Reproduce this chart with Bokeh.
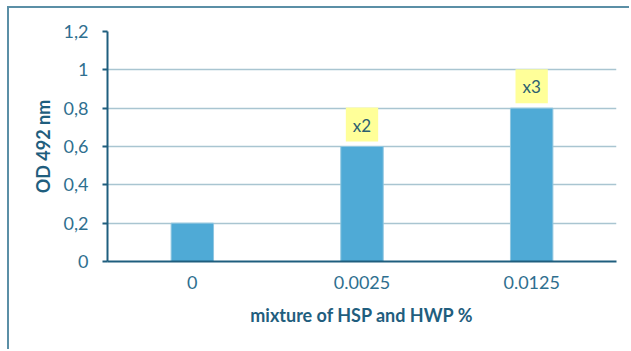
from bokeh.plotting import figure
from bokeh.models import Range1d, FactorRange, ColumnDataSource, CustomJSTickFormatter, FixedTicker
from bokeh.core.properties import value
from bokeh.embed import file_html
from bokeh.resources import INLINE

# OD readings for each concentration of the HSP/HWP mixture
concentrations = ["0", "0.0025", "0.0125"]
od_values = [0.2, 0.6, 0.8]
fold_labels = ["", "x2", "x3"]
y_ticks = [0, 0.2, 0.4, 0.6, 0.8, 1.0, 1.2]

FONT = "Lato"
AXIS_DARK = "#1f5e7e"
TICK_TEXT = "#2f6f8f"

p = figure(
    x_range=FactorRange(*concentrations, range_padding=0),
    y_range=Range1d(0, 1.2),
    width=622, height=343,
    min_border_left=98, min_border_right=15,
    min_border_top=23, min_border_bottom=90,
    output_backend="svg", toolbar_location=None,
    styles={
        "margin-left": "7px", "margin-top": "6px",
        "border-top": "2px solid #5b8fa6",
        "border-left": "2px solid #5b8fa6",
    },
)
p.outline_line_color = None

src = ColumnDataSource(dict(x=concentrations, top=od_values))
p.vbar(x="x", top="top", width=0.25, source=src,
       fill_color="#4faad6", line_color="#8fc6e0", line_width=1)

# fold-change tags above the bars that have one
keep = [i for i, t in enumerate(fold_labels) if t]
tag_src = ColumnDataSource(dict(
    x=[concentrations[i] for i in keep],
    y=[od_values[i] for i in keep],
    t=[fold_labels[i] for i in keep],
))
p.text(x="x", y="y", text="t", source=tag_src,
       text_align="center", text_baseline="middle", y_offset=-22,
       text_font=value(FONT), text_font_size="17px", text_color="#2d5f70",
       background_fill_color="#ffff99",
       padding=dict(left=7, right=7, top=7, bottom=6))

# grid
p.xgrid.grid_line_color = None
p.ygrid.grid_line_color = "#a9c5d1"
p.ygrid.grid_line_width = 1.5

# y axis
p.yaxis.ticker = FixedTicker(ticks=y_ticks)
p.yaxis.formatter = CustomJSTickFormatter(
    code="return tick.toFixed(1).replace('.0', '').replace('.', ',');")
p.yaxis.axis_label = "OD 492 nm"
p.yaxis.axis_line_color = AXIS_DARK
p.yaxis.axis_line_width = 2
p.yaxis.major_tick_line_color = AXIS_DARK
p.yaxis.major_tick_line_width = 2
p.yaxis.major_tick_out = 5
p.yaxis.major_tick_in = 0
p.yaxis.minor_tick_line_color = None
p.yaxis.major_label_standoff = 14
p.yaxis.axis_label_standoff = 7

# x axis
p.xaxis.axis_label = "mixture of HSP and HWP %"
p.xaxis.axis_line_color = AXIS_DARK
p.xaxis.axis_line_width = 2
p.xaxis.major_tick_line_color = None
p.xaxis.major_tick_out = 0
p.xaxis.major_tick_in = 0
p.xaxis.major_label_standoff = 14
p.xaxis.axis_label_standoff = 12

for ax in (p.xaxis, p.yaxis):
    ax.major_label_text_font = FONT
    ax.major_label_text_font_size = "18px"
    ax.major_label_text_color = TICK_TEXT
    ax.axis_label_text_font = FONT
    ax.axis_label_text_font_size = "18px"
    ax.axis_label_text_font_style = "bold"
    ax.axis_label_text_color = AXIS_DARK

open("out.html", "w").write(file_html(p, INLINE))
